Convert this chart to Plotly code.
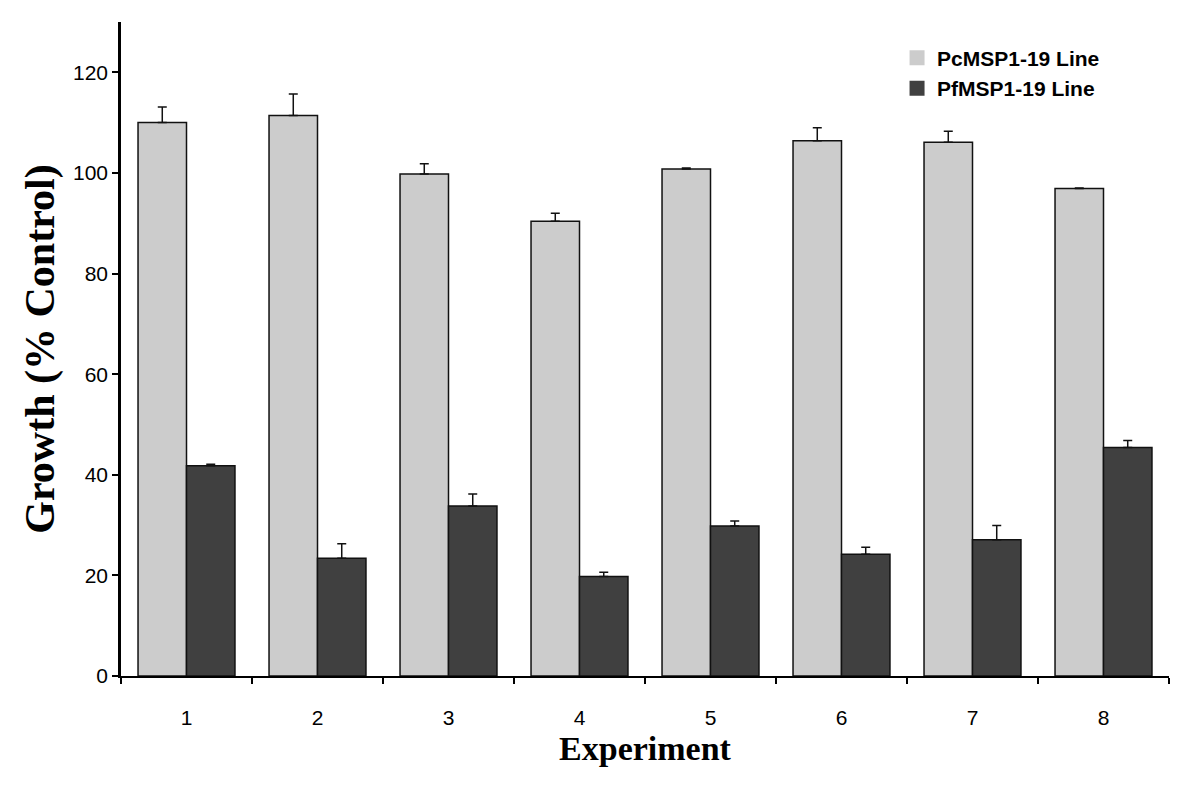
import plotly.graph_objects as go

experiments = ["1", "2", "3", "4", "5", "6", "7", "8"]
pc_values = [110.0, 111.4, 99.8, 90.4, 100.8, 106.4, 106.1, 96.9]
pc_errors = [3.1, 4.3, 2.0, 1.6, 0.2, 2.6, 2.2, 0.1]
pf_values = [41.8, 23.4, 33.8, 19.8, 29.8, 24.2, 27.1, 45.4]
pf_errors = [0.3, 2.9, 2.4, 0.8, 1.0, 1.4, 2.8, 1.4]
series_names = ["PcMSP1-19 Line", "PfMSP1-19 Line"]
colors = ["#cccccc", "#404040"]

fig = go.Figure()
for name, vals, errs, col in zip(series_names, [pc_values, pf_values], [pc_errors, pf_errors], colors):
    fig.add_trace(go.Bar(
        x=experiments, y=vals, name=name, showlegend=False,
        marker=dict(color=col, line=dict(color="#111111", width=1.5)),
        error_y=dict(type="data", array=errs, arrayminus=[0] * len(errs), symmetric=False,
                     color="#111111", thickness=1.5, width=4.5),
    ))
    # legend-only entry with borderless square swatch
    fig.add_trace(go.Scatter(
        x=[None], y=[None], mode="markers", name=name,
        marker=dict(symbol="square", size=15, color=col),
    ))

fig.update_layout(
    width=1184, height=773,
    margin=dict(l=113, r=23, t=14, b=105),
    paper_bgcolor="white", plot_bgcolor="white",
    barmode="group", bargap=0.26, bargroupgap=0,
    font=dict(family="Liberation Sans, Arial, sans-serif", color="black"),
    legend=dict(x=0.7405, y=0.976, xanchor="left", yanchor="top",
                font=dict(family="Liberation Sans, Arial, sans-serif", size=21, weight="bold"),
                bgcolor="rgba(0,0,0,0)", tracegroupgap=0),
    xaxis=dict(
        type="category", tickson="boundaries",
        showline=True, linecolor="black", linewidth=2,
        ticks="outside", ticklen=6, tickwidth=2, tickcolor="black",
        tickfont=dict(size=21), ticklabelstandoff=22,
        showgrid=False,
        title=dict(text="Experiment", standoff=8,
                   font=dict(family="Liberation Serif, Times New Roman, serif", size=34, weight="bold")),
    ),
    yaxis=dict(
        range=[0, 130], tickvals=[0, 20, 40, 60, 80, 100, 120],
        showline=True, linecolor="black", linewidth=2.5,
        ticks="outside", ticklen=6, tickwidth=2, tickcolor="black",
        tickfont=dict(size=21), showgrid=False, zeroline=False,
        title=dict(text="Growth (% Control)", standoff=6,
                   font=dict(family="Liberation Serif, Times New Roman, serif", size=42, weight="bold")),
    ),
)

fig.write_html("out.html")
